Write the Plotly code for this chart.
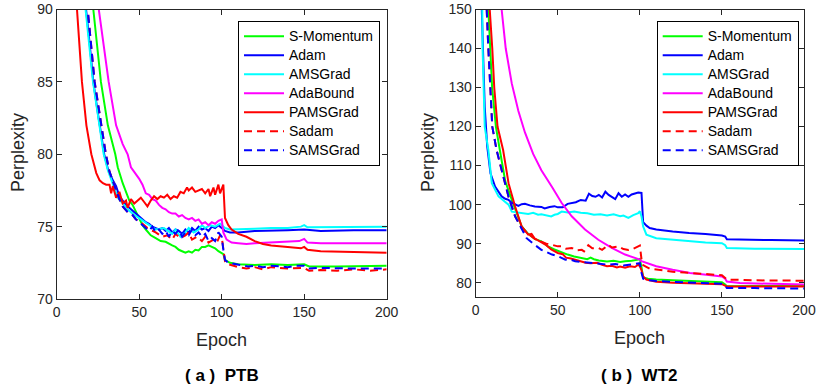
import plotly.graph_objects as go

# legend order = plotting order
names = ['S-Momentum', 'Adam', 'AMSGrad', 'AdaBound', 'PAMSGrad', 'Sadam', 'SAMSGrad']
colors = ['#00FF00', '#0000FF', '#00FFFF', '#FF00FF', '#FF0000', '#FF0000', '#0000FF']
dashes = ['solid', 'solid', 'solid', 'solid', 'solid', '8px,5px', '8px,5px']

# ---------- (a) PTB : values ----------
ptb_smom_x = [20, 22.2, 26.8, 31, 35.5, 37, 40, 42, 44, 46, 48, 50, 52, 54, 57, 60, 63, 66, 68, 70, 72, 74, 76, 78,
              80, 82, 84, 86, 88, 90, 92, 94, 96, 98, 100, 101, 102, 105, 110, 120, 130, 140, 150, 153, 170, 200]
ptb_smom_y = [95, 90, 85, 82, 80, 79.1, 78.0, 77.4, 76.8, 76.5, 76.0, 75.6, 75.1, 74.8, 74.4, 74.2, 74.0, 73.95,
              73.8, 73.7, 73.6, 73.4, 73.3, 73.2, 73.3, 73.2, 73.4, 73.35, 73.6, 73.6, 73.7, 73.6, 73.5, 73.3, 73.2,
              73.1, 72.7, 72.5, 72.4, 72.35, 72.4, 72.35, 72.4, 72.25, 72.25, 72.3]

ptb_adam_x = [15, 17.8, 20, 22.2, 25, 28.8, 31, 34, 36, 38, 40, 42, 44, 46, 48, 50, 52, 54, 56, 58, 60, 62, 64, 66,
              68, 70, 72, 74, 76, 78, 80, 82, 84, 86, 88, 90, 92, 94, 96, 98, 100, 102, 105, 110, 120, 130, 140, 150,
              160, 180, 200]
ptb_adam_y = [95, 90, 87.6, 85, 82.8, 80, 79, 78.2, 77.8, 77.1, 76.8, 76.5, 76.3, 76.1, 75.9, 75.7, 75.5, 75.3,
              75.2, 75.0, 74.9, 74.8, 74.9, 74.7, 74.9, 74.6, 74.8, 74.7, 74.5, 74.8, 74.6, 74.9, 74.7, 75.0, 74.8,
              74.9, 74.7, 75.0, 74.9, 75.1, 74.9, 74.7, 74.6, 74.6, 74.7, 74.7, 74.75, 74.8, 74.7, 74.75, 74.75]

ptb_ams_x = [15, 17.5, 22, 28.5, 31, 34, 37, 40, 43, 46, 50, 55, 60, 65, 70, 72, 75, 78, 80, 83, 86, 88, 90, 93, 96,
             99, 102, 105, 110, 120, 130, 140, 148, 150, 152, 170, 200]
ptb_ams_y = [95, 90, 85, 80, 78.9, 78.0, 77.0, 76.6, 76.2, 75.9, 75.6, 75.2, 74.8, 74.9, 74.5, 74.8, 74.3, 74.6,
             74.9, 74.6, 74.8, 75.1, 74.9, 75.1, 75.0, 75.2, 74.9, 74.8, 74.8, 74.85, 74.9, 74.9, 75.0, 75.1, 74.95,
             74.95, 75.0]

ptb_adab_x = [24, 25.5, 31.5, 36, 40, 43, 45, 47, 50, 52, 54, 56, 58, 60, 62, 64, 66, 68, 70, 72, 74, 76, 78, 80,
              82, 84, 86, 88, 90, 92, 94, 96, 98, 100, 101, 103, 106, 110, 115, 120, 130, 140, 147, 150, 152, 160,
              180, 200]
ptb_adab_y = [93, 90, 85, 82, 80.7, 80.0, 79.1, 78.8, 78.3, 77.9, 77.3, 77.2, 76.9, 76.8, 76.5, 76.3, 76.2, 76.0,
              75.9, 75.9, 75.7, 75.8, 75.6, 75.5, 75.6, 75.4, 75.5, 75.2, 75.3, 75.1, 75.3, 75.2, 75.4, 75.5, 74.6,
              74.1, 73.9, 73.85, 73.8, 73.85, 73.9, 73.95, 74.0, 74.15, 73.9, 73.85, 73.85, 73.85]

ptb_pams_x = [10, 12, 15.3, 18, 21, 24, 26, 28, 30, 32, 33, 34, 36, 38, 40, 42, 43, 45, 47, 49, 51, 53, 55, 57, 59,
              61, 63, 65, 67, 69, 71, 73, 75, 77, 79, 80, 82, 84, 86, 88, 90, 92, 93, 95, 96, 98, 99, 101, 102, 104,
              106, 110, 115, 120, 125, 130, 140, 148, 150, 152, 160, 175, 200]
ptb_pams_y = [96, 90.5, 85, 82, 80.0, 78.7, 78.2, 78.0, 77.9, 77.9, 77.3, 77.8, 77.0, 77.4, 76.6, 76.8, 76.3, 76.9,
              76.6, 76.8, 77.0, 76.7, 76.4, 76.8, 77.1, 76.9, 77.1, 77.0, 77.2, 76.9, 77.1, 77.0, 77.4, 77.3, 77.7,
              77.5, 77.7, 77.4, 77.5, 77.6, 77.3, 77.6, 77.1, 77.7, 77.2, 77.9, 77.3, 77.9, 75.6, 75.1, 74.8, 74.5,
              74.3, 74.0, 73.8, 73.7, 73.6, 73.5, 73.6, 73.4, 73.3, 73.25, 73.2]

ptb_sadam_x = [16, 18.8, 23, 29.8, 32, 35, 38, 40, 43, 46, 48, 50, 55, 60, 64, 67, 70, 72, 75, 78, 80, 82, 85, 88,
               90, 92, 95, 97, 99, 100, 101, 102, 104, 110, 115, 120, 125, 130, 140, 150, 153, 160, 170, 180, 190,
               200]
ptb_sadam_y = [95, 90, 85, 80, 78.8, 77.8, 76.9, 76.4, 76.0, 75.8, 75.5, 75.4, 74.9, 74.6, 74.3, 74.4, 74.1, 74.5,
               74.2, 74.4, 74.6, 74.1, 74.3, 74.0, 74.3, 73.9, 74.1, 73.9, 74.4, 74.3, 73.3, 72.6, 72.4, 72.2, 72.1,
               72.2, 72.05, 72.2, 72.1, 72.15, 71.95, 72.0, 71.95, 72.05, 71.95, 72.05]

ptb_sams_x = [16, 18.8, 23, 29.8, 32, 35, 38, 40, 43, 46, 48, 50, 52, 54, 56, 58, 60, 62, 64, 66, 68, 70, 72, 74,
              76, 78, 80, 82, 84, 86, 88, 90, 92, 94, 96, 98, 100, 101, 102, 104, 108, 112, 116, 120, 125, 130, 135,
              140, 145, 150, 153, 160, 180, 200]
ptb_sams_y = [95, 90, 85, 80, 78.8, 77.8, 76.9, 76.4, 76.0, 75.8, 75.5, 75.3, 75.1, 74.9, 74.7, 75.0, 74.6, 74.8,
              74.5, 74.7, 74.3, 74.7, 74.5, 74.8, 74.3, 74.6, 74.4, 74.8, 74.4, 74.6, 74.3, 74.5, 74.0, 74.2, 74.0,
              74.6, 74.3, 73.4, 72.7, 72.5, 72.4, 72.3, 72.25, 72.3, 72.2, 72.3, 72.25, 72.2, 72.3, 72.3, 72.1, 72.15,
              72.1, 72.1]

# ---------- (b) WT2 ----------
wt2_smom_x = [6, 7.7, 10, 12.3, 14.7, 18, 22, 25, 28, 32, 36, 40, 44, 48, 52, 56, 60, 64, 68, 70, 72, 75, 78, 80,
              84, 88, 91, 95, 99, 100, 101, 102, 105, 110, 120, 130, 140, 150, 152, 153, 170, 200]
wt2_smom_y = [160, 150, 130, 120, 114, 106, 101.2, 97.5, 94.4, 92.5, 91.2, 90.6, 89.3, 88.5, 87.8, 87.2, 86.7,
              86.4, 86.0, 86.4, 86.0, 85.7, 85.6, 85.4, 85.6, 85.3, 85.5, 85.6, 85.9, 86.1, 84.0, 81.3, 81.0, 80.8,
              80.6, 80.4, 80.3, 80.1, 79.5, 79.1, 79.15, 79.2]

wt2_adam_x = [3, 4.5, 5.5, 7, 9, 11.8, 15.8, 18, 20, 22, 24, 26, 28, 30, 33, 36, 40, 42, 45, 48, 50, 53, 56, 58, 61,
              64, 67, 69, 71, 73, 75, 77, 79, 81, 83, 85, 87, 89, 91, 93, 95, 97, 99, 101, 102, 104, 106, 110, 115,
              120, 130, 140, 150, 152, 153, 160, 180, 200]
wt2_adam_y = [160, 140, 125, 115, 108, 104.6, 102.1, 101.5, 101.2, 100.5, 100.0, 99.7, 100.1, 100.2, 99.8, 99.5,
              99.4, 99.0, 99.4, 99.6, 99.3, 99.3, 100.2, 100.4, 100.6, 101.2, 101.0, 102.8, 102.2, 102.0, 102.5,
              101.8, 103.3, 102.5, 102.0, 101.4, 102.9, 102.0, 102.6, 102.0, 102.6, 102.9, 103.1, 103.0, 95.5, 94.6,
              94.0, 93.6, 93.3, 93.1, 92.7, 92.5, 92.1, 91.8, 91.1, 91.0, 90.9, 90.8]

wt2_ams_x = [3, 4, 4.2, 5.5, 7.7, 9.8, 13.9, 17, 20, 22, 25, 28, 32, 35, 38, 40, 43, 46, 48, 50, 52.4, 56, 60, 64,
             68, 72, 76, 80, 84, 88, 90, 93, 96, 99, 100, 101, 102, 104, 110, 120, 130, 140, 150, 152, 153, 170, 200]
wt2_ams_y = [160, 150, 140, 120, 114, 105.5, 102.1, 101, 100.0, 98.2, 98.0, 97.8, 97.6, 97.9, 97.4, 97.5, 97.2,
             96.97, 97.4, 97.6, 98.2, 98.0, 98.2, 97.9, 97.8, 97.4, 97.5, 97.2, 97.5, 97.0, 97.2, 96.6, 97.3, 97.8,
             98.3, 97.0, 94.4, 92.3, 91.4, 91.0, 90.6, 90.3, 90.1, 89.6, 88.9, 88.7, 88.6]

wt2_adab_x = [14, 15.8, 18.3, 22, 26, 30, 35, 40, 46.5, 52.4, 58.5, 66.6, 74.7, 82.9, 91, 100, 101, 110, 120, 130.5,
              140.6, 150, 152, 153, 161, 180, 200]
wt2_adab_y = [160, 150, 140, 131, 124, 118.5, 113, 108.8, 104.5, 100.4, 97, 93.6, 91, 88.9, 87.2, 85.9, 85.5, 84.2,
              83.3, 82.5, 82.0, 81.6, 81.0, 80.3, 79.9, 79.7, 79.5]

wt2_pams_x = [7, 8.7, 10.1, 11.3, 13.3, 16.7, 20, 24, 28, 32, 34, 36, 40, 43, 46, 50, 53, 55, 58, 60.6, 64, 67, 70,
              74, 77, 80, 83, 86, 88, 91, 94, 97, 99, 100, 101, 102, 104, 110, 120, 130, 140, 150, 152, 153, 170, 200]
wt2_pams_y = [160, 150, 140, 130, 120, 114, 105.5, 99.5, 94.4, 92.3, 92.5, 91.3, 90.2, 89.6, 88.5, 87.6, 87.3, 86.4,
              86.2, 85.9, 85.6, 85.1, 85.0, 85.1, 84.6, 84.2, 84.3, 83.9, 84.1, 83.8, 84.2, 84.0, 84.6, 84.2, 83.2,
              81.6, 80.8, 80.2, 80.0, 79.8, 79.7, 79.6, 79.2, 79.0, 79.0, 79.0]

wt2_sadam_x = [5, 6.7, 7.7, 10.1, 12.7, 16.8, 20, 24, 28, 32, 36, 40, 43, 46.5, 50, 52.4, 55, 58.5, 61, 64.6, 66,
               68.6, 71, 74.7, 77, 80.8, 83, 86.9, 90, 93, 96, 99, 100, 101, 102, 106, 112, 120, 130, 140, 150, 152,
               153, 170, 200]
wt2_sadam_y = [160, 150, 140, 120, 114, 107.2, 102, 97, 94, 92.5, 91.2, 90.5, 90.0, 89.7, 89.3, 89.3, 88.7, 88.9,
               88.3, 88.4, 88.0, 89.6, 88.8, 88.9, 88.4, 89.7, 89.0, 89.3, 88.6, 88.4, 88.7, 89.3, 89.5, 86.0, 84.5,
               83.6, 83.3, 82.8, 82.5, 82.2, 81.9, 81.2, 80.8, 80.6, 80.5]

wt2_sams_x = [5, 6.7, 7.7, 10.1, 12.7, 16.8, 20, 24, 27, 31, 35, 40, 46.5, 50, 54.6, 57, 60.6, 65, 70.6, 75, 80.8,
              85, 90, 95, 100, 101, 102, 106, 110, 120, 130, 140, 150, 152, 153, 170, 200]
wt2_sams_y = [160, 150, 140, 120, 114, 107.2, 102, 97, 94.5, 91.4, 90.0, 88.4, 87.2, 86.8, 85.9, 86.0, 85.5, 85.3,
              85.0, 84.9, 84.6, 84.8, 84.4, 84.7, 85.0, 82.5, 81.0, 80.6, 80.4, 80.2, 80.0, 79.8, 79.7, 79.2, 78.6,
              78.6, 78.5]

ptb = [(ptb_smom_x, ptb_smom_y), (ptb_adam_x, ptb_adam_y), (ptb_ams_x, ptb_ams_y), (ptb_adab_x, ptb_adab_y),
       (ptb_pams_x, ptb_pams_y), (ptb_sadam_x, ptb_sadam_y), (ptb_sams_x, ptb_sams_y)]
wt2 = [(wt2_smom_x, wt2_smom_y), (wt2_adam_x, wt2_adam_y), (wt2_ams_x, wt2_ams_y), (wt2_adab_x, wt2_adab_y),
       (wt2_pams_x, wt2_pams_y), (wt2_sadam_x, wt2_sadam_y), (wt2_sams_x, wt2_sams_y)]

FONT = 'Liberation Sans, Arial, sans-serif'
INK = '#262626'
W, H = 827, 390


def fx(px):
    return px / W


def fy(py):
    return 1 - py / H


fig = go.Figure()
for k in range(7):
    fig.add_trace(go.Scatter(x=ptb[k][0], y=ptb[k][1], mode='lines',
                             name='<span style="font-size:14px">%s</span>' % names[k],
                             line=dict(color=colors[k], width=2, dash=dashes[k]),
                             xaxis='x', yaxis='y', legend='legend'))
for k in range(7):
    fig.add_trace(go.Scatter(x=wt2[k][0], y=wt2[k][1], mode='lines',
                             name='<span style="font-size:14px">%s</span>' % names[k],
                             line=dict(color=colors[k], width=2, dash=dashes[k]),
                             xaxis='x2', yaxis='y2', legend='legend2'))

# pixel boxes of the two axes (left, right, top, bottom)
ax1 = (56.7, 386.7, 9.5, 299)
ax2 = (475.7, 804, 9.5, 296.7)

axis_style = dict(showline=True, linecolor=INK, linewidth=1, mirror='ticks', ticks='inside', ticklen=5,
                  tickcolor=INK, showgrid=False, zeroline=False, automargin=False,
                  tickfont=dict(family=FONT, size=14, color=INK))

leg_style = dict(bgcolor='white', bordercolor='black', borderwidth=1, xanchor='left', yanchor='top',
                 font=dict(family=FONT, size=12, color='black'), tracegroupgap=0, itemwidth=40)

fig.update_layout(
    template='none',
    width=W, height=H, margin=dict(l=0, r=0, t=0, b=0),
    paper_bgcolor='white', plot_bgcolor='white',
    xaxis=dict(domain=[fx(ax1[0]), fx(ax1[1])], range=[0, 200], tickvals=[0, 50, 100, 150, 200],
               anchor='y', **axis_style),
    yaxis=dict(domain=[fy(ax1[3]), fy(ax1[2])], range=[70, 90], tickvals=[70, 75, 80, 85, 90],
               anchor='x', **axis_style),
    xaxis2=dict(domain=[fx(ax2[0]), fx(ax2[1])], range=[0, 200], tickvals=[0, 50, 100, 150, 200],
                anchor='y2', **axis_style),
    yaxis2=dict(domain=[fy(ax2[3]), fy(ax2[2])], range=[76.4, 150],
                tickvals=[80, 90, 100, 110, 120, 130, 140, 150], anchor='x2', **axis_style),
    legend=dict(x=fx(238), y=fy(20.7), **leg_style),
    legend2=dict(x=fx(656.7), y=fy(20.7), **leg_style),
    showlegend=True,
)

annots = [
    dict(text='Epoch', x=221.7, y=340, size=18, bold=False),
    dict(text='Epoch', x=639.8, y=338, size=18, bold=False),
    dict(text='(\u00a0a\u00a0)\u00a0\u00a0PTB', x=221.7, y=375, size=17, bold=True),
    dict(text='(\u00a0b\u00a0)\u00a0\u00a0WT2', x=639, y=375, size=17, bold=True),
]
for a in annots:
    fig.add_annotation(text='<b>%s</b>' % a['text'] if a['bold'] else a['text'],
                       x=fx(a['x']), y=fy(a['y']), xref='paper', yref='paper',
                       showarrow=False, xanchor='center', yanchor='middle',
                       font=dict(family=FONT, size=a['size'], color='black' if a['bold'] else INK))
for xp in (18, 428):
    fig.add_annotation(text='Perplexity', x=fx(xp), y=fy(153), xref='paper', yref='paper',
                       showarrow=False, textangle=-90, xanchor='center', yanchor='middle',
                       font=dict(family=FONT, size=18, color=INK))

# drop the default 8px page margin so the figure sits at the window's corner
fig.write_html('out.html', config={'displayModeBar': False},
               post_script="document.body.style.margin='0';")
